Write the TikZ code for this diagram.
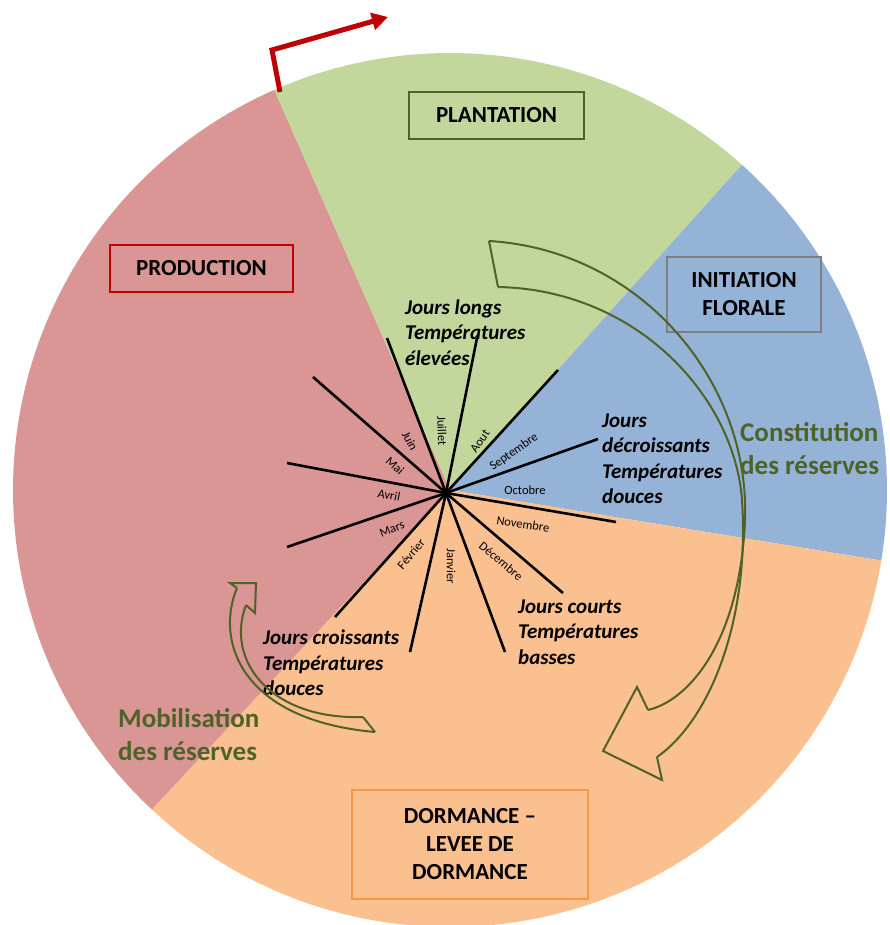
\documentclass[tikz,border=0pt]{standalone}
\usepackage{fontspec}
\setmainfont{Carlito}
\usetikzlibrary{arrows.meta}

\definecolor{prodred}{HTML}{D99694}
\definecolor{plantgreen}{HTML}{C3D69B}
\definecolor{initblue}{HTML}{95B3D7}
\definecolor{dormorange}{HTML}{FAC090}
\definecolor{darkgreen}{HTML}{4F6228}
\definecolor{boxred}{HTML}{C00000}
\definecolor{boxgray}{HTML}{7F7F7F}
\definecolor{boxorange}{HTML}{F79646}

\begin{document}
\begin{tikzpicture}[x=1pt, y=1pt,
	phase/.style={draw, line width=1.5pt, align=center, inner sep=0pt, font=\fontsize{23}{28}\selectfont\bfseries},
	climate/.style={anchor=west, align=left, inner sep=0pt, font=\fontsize{21}{25.5}\selectfont\bfseries\itshape},
	reserve/.style={anchor=west, align=left, inner sep=0pt, text=darkgreen, font=\fontsize{27}{33}\selectfont\bfseries},
	month/.style={inner sep=0pt, font=\fontsize{12.5}{14}\selectfont},
	spoke/.style={line width=2.6pt},
	cycarrow/.style={draw=darkgreen, line width=2pt, line join=miter}]
	\useasboundingbox (0,0) rectangle (890,-925);
	\coordinate (P) at (450,-490);
	\coordinate (ctr) at (446,-493);
	% pie
	\fill[prodred] (P) -- ++(113.7:437) arc[start angle=113.7, end angle=227, radius=437] -- cycle;
	\fill[plantgreen] (P) -- ++(48.1:437) arc[start angle=48.1, end angle=113.7, radius=437] -- cycle;
	\fill[initblue] (P) -- ++(-9.3:437) arc[start angle=-9.3, end angle=48.1, radius=437] -- cycle;
	\fill[dormorange] (P) -- ++(227:437) arc[start angle=227, end angle=350.7, radius=437] -- cycle;
	% phases
	\node[phase, draw=boxred, minimum width=183, minimum height=47] (production) at (201.5,-268.5) {PRODUCTION};
	\node[phase, draw=darkgreen, minimum width=175, minimum height=47] (plantation) at (496.5,-115.5) {PLANTATION};
	\node[phase, draw=boxgray, minimum width=154, minimum height=75] (initiation) at (744,-294.5) {INITIATION\\FLORALE};
	\node[phase, draw=boxorange, minimum width=236, minimum height=109] (dormance) at (470,-844.5) {DORMANCE --\\LEVEE DE\\DORMANCE};
	% spokes
	\coordinate (s1) at (387,-338);
	\coordinate (s2) at (477,-338);
	\coordinate (s3) at (558,-370);
	\coordinate (s4) at (598,-439);
	\coordinate (s5) at (616,-522);
	\coordinate (s6) at (563,-593);
	\coordinate (s7) at (505,-652);
	\coordinate (s8) at (410,-652);
	\coordinate (s9) at (335,-617);
	\coordinate (s10) at (287,-547);
	\coordinate (s11) at (287,-463);
	\coordinate (s12) at (313,-377);
	\draw[spoke] (ctr) -- (s1);
	\draw[spoke] (ctr) -- (s2);
	\draw[spoke] (ctr) -- (s3);
	\draw[spoke] (ctr) -- (s4);
	\draw[spoke] (ctr) -- (s5);
	\draw[spoke] (ctr) -- (s6);
	\draw[spoke] (ctr) -- (s7);
	\draw[spoke] (ctr) -- (s8);
	\draw[spoke] (ctr) -- (s9);
	\draw[spoke] (ctr) -- (s10);
	\draw[spoke] (ctr) -- (s11);
	\draw[spoke] (ctr) -- (s12);
	% months
	\node[month, rotate=-63] (juin) at (410,-441) {Juin};
	\node[month, rotate=-88] (juillet) at (442,-431) {Juillet};
	\node[month, rotate=55] (aout) at (480,-441) {Aout};
	\node[month, rotate=35] (sept) at (514,-452) {Septembre};
	\node[month] (oct) at (525,-490) {Octobre};
	\node[month, rotate=-9] (nov) at (523,-524) {Novembre};
	\node[month, rotate=-40] (dec) at (501,-561) {Décembre};
	\node[month, rotate=-90] (jan) at (451,-566) {Janvier};
	\node[month, rotate=50] (fev) at (411,-554) {Février};
	\node[month, rotate=22] (mars) at (392,-529) {Mars};
	\node[month, rotate=-11] (avril) at (389,-495) {Avril};
	\node[month, rotate=-42] (mai) at (395,-466) {Mai};
	% conditions
	\node[climate] (longs) at (405,-332.5) {Jours longs\\Températures\\élevées};
	\node[climate] (decr) at (602,-459) {Jours\\décroissants\\Températures\\douces};
	\node[climate] (courts) at (518,-632) {Jours courts\\Températures\\basses};
	\node[climate] (croiss) at (263,-663) {Jours croissants\\Températures\\douces};
	\node[reserve] (constit) at (740,-448.5) {Constitution\\des réserves};
	\node[reserve] (mobil) at (118,-735) {Mobilisation\\des réserves};
	% start arrow
	\coordinate (rs) at (280,-92);
	\coordinate (rc) at (272,-50);
	\coordinate (rt) at (388,-17);
	\draw[boxred, line width=5pt, -{Triangle[length=16pt, width=17pt]}] (rs) -- (rc) -- (rt);
	% big cycle arrow
	\coordinate (ta) at (489,-241);
	\coordinate (tb) at (498,-287);
	\coordinate (ha) at (648,-710);
	\coordinate (hb) at (657,-757);
	\draw[cycarrow] (ta) -- (tb);
	\draw[cycarrow] (ta) .. controls (640,-250) and (750,-380) .. (745,-520) .. controls (740,-640) and (690,-700) .. (ha);
	\draw[cycarrow] (tb) .. controls (640,-290) and (735,-400) .. (742,-500) .. controls (750,-620) and (710,-720) .. (hb);
	\draw[cycarrow] (ha) -- (637,-687) -- (603,-751) -- (662,-780) -- (hb);
	% small arrow
	\coordinate (ma) at (237,-588);
	\coordinate (mb) at (246,-605);
	\coordinate (mc) at (375,-732);
	\coordinate (md) at (363,-717);
	\draw[cycarrow] (ma) -- (230,-583) -- (256,-583) -- (255,-613) -- (mb);
	\draw[cycarrow] (ma) .. controls (215,-640) and (240,-720) .. (mc);
	\draw[cycarrow] (mb) .. controls (225,-660) and (270,-720) .. (md);
	\draw[cycarrow] (md) -- (mc);
\end{tikzpicture}
\end{document}
